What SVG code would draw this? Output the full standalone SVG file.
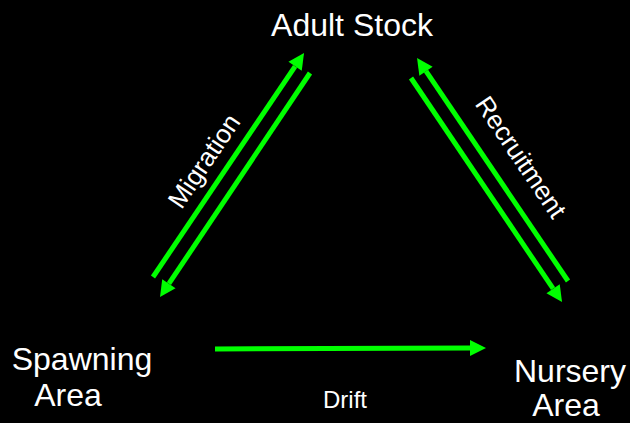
<svg xmlns="http://www.w3.org/2000/svg" width="630" height="423" viewBox="0 0 630 423">
<style>
.bg{fill:#000}
.node{font-family:"Liberation Sans",Arial,sans-serif;font-size:32px;fill:#fff;text-anchor:middle}
.lbl{font-family:"Liberation Sans",Arial,sans-serif;font-size:26px;fill:#fff;text-anchor:middle}
.edge{stroke:#00ff00;stroke-width:5;fill:none}
</style>
<defs>
<marker id="ah" viewBox="0 -8 16 16" refX="0" refY="0" markerWidth="16" markerHeight="16" markerUnits="userSpaceOnUse" orient="auto" overflow="visible">
<path d="M0,-8 L16,0 L0,8 z" fill="#00ff00"/>
</marker>
</defs>
<rect class="bg" x="0" y="0" width="630" height="423"/>
<g id="connectors">
<g id="migration-up"><line class="edge" x1="153" y1="277" x2="295.1" y2="66.3" marker-end="url(#ah)"/></g>
<g id="migration-down"><line class="edge" x1="310" y1="73" x2="168.9" y2="283.7" marker-end="url(#ah)"/></g>
<g id="recruitment-up"><line class="edge" x1="568" y1="281" x2="426" y2="71.2" marker-end="url(#ah)"/></g>
<g id="recruitment-down"><line class="edge" x1="411" y1="78" x2="553.1" y2="288.7" marker-end="url(#ah)"/></g>
<g id="drift"><line class="edge" x1="215" y1="349" x2="470" y2="348.1" marker-end="url(#ah)"/></g>
<text class="lbl" transform="translate(204,161) rotate(-56)" dy="9">Migration</text>
<text class="lbl" transform="translate(521,157) rotate(56)" dy="9">Recruitment</text>
<text class="lbl" x="345" y="408" style="font-size:24px">Drift</text>
</g>
<g id="adult-stock"><text class="node" x="352" y="36">Adult Stock</text></g>
<g id="spawning-area"><text class="node" x="82" y="370">Spawning</text><text class="node" x="68" y="406">Area</text></g>
<g id="nursery-area"><text class="node" x="570" y="382">Nursery</text><text class="node" x="566" y="416">Area</text></g>
</svg>
